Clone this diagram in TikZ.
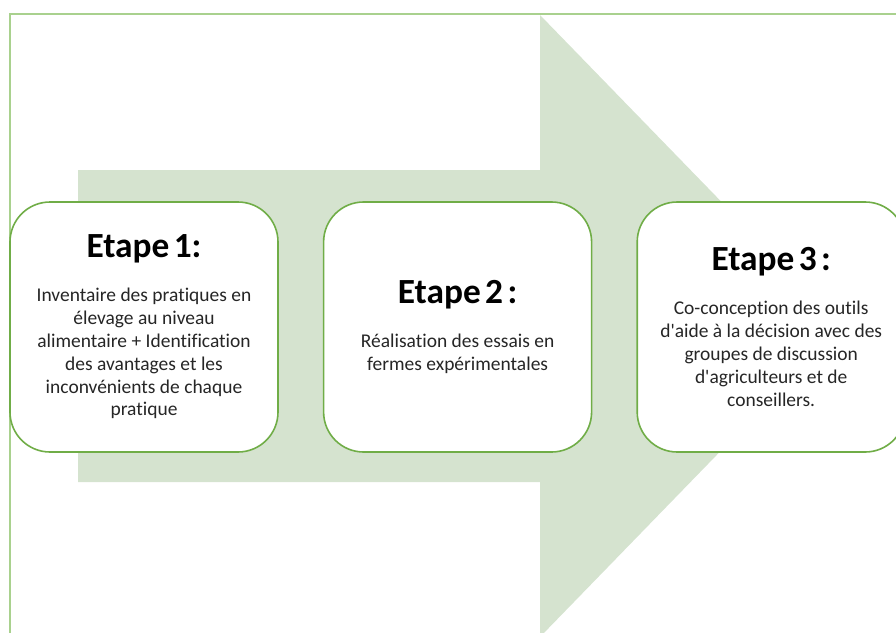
\documentclass[tikz,border=0pt]{standalone}
\usepackage{fontspec}
\setmainfont{Carlito}[Ligatures={TeXOff,NoCommon}]
\usepackage{tikz}
\usetikzlibrary{positioning}

\definecolor{arrowfill}{HTML}{D5E3CF}
\definecolor{boxline}{HTML}{70AD47}
\definecolor{frameline}{HTML}{A9D18E}
\definecolor{bodytext}{HTML}{262626}

\newcommand{\etape}[2]{{\fontsize{26.5}{31}\selectfont\bfseries\color{black}#1\par}%
  \vspace{16pt}{\fontsize{14.6}{17.1}\selectfont #2\par}}

\tikzset{
  stepbox/.style={draw=boxline, line width=1.2pt, fill=white, rounded corners=30pt,
    minimum width=201pt, minimum height=187.5pt, text width=190pt,
    align=center, inner sep=0pt, text=bodytext},
}

\begin{document}
\begin{tikzpicture}[x=0.75pt,y=-0.75pt,node distance=33pt]
        \useasboundingbox (0,0) rectangle (896,632);
        \clip (0,0) rectangle (896,632);
        % Frame and arrow
        \draw[frameline, line width=1.5pt] (10,14) rectangle (910,650);
        \fill[arrowfill] (78,170) -- (540,170) -- (540,15) -- (842,326)
            -- (540,637) -- (540,482) -- (78,482) -- cycle;
        % Nodes
        \node[stepbox] (e1) at (144,327) {\etape{Etape 1:}{Inventaire des pratiques en\\
            élevage au niveau\\ alimentaire + Identification\\ des avantages et les\\
            inconvénients de chaque\\ pratique}};
        \node[stepbox, right=of e1] (e2) {\etape{Etape 2 :}{Réalisation des essais en\\
            fermes expérimentales}};
        \node[stepbox, right=of e2] (e3) {\etape{Etape 3 :}{Co-conception des outils\\
            d'aide à la décision avec des\\ groupes de discussion\\
            d'agriculteurs et de\\ conseillers.}};
    \end{tikzpicture}
\end{document}
